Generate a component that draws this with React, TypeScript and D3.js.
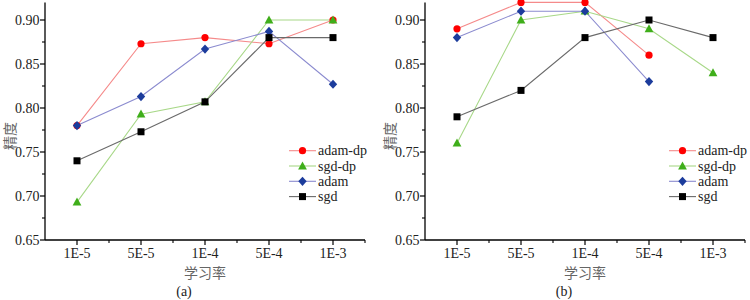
import React from "react";
import * as d3 from "d3";

const categories = ["1E-5", "5E-5", "1E-4", "5E-4", "1E-3"];
const seriesNames = ["adam-dp", "sgd-dp", "adam", "sgd"];

const leftAdamDp = [0.78, 0.873, 0.88, 0.873, 0.9];
const leftSgdDp = [0.693, 0.793, 0.807, 0.9, 0.9];
const leftAdam = [0.78, 0.813, 0.867, 0.887, 0.827];
const leftSgd = [0.74, 0.773, 0.807, 0.88, 0.88];

const rightAdamDp = [0.89, 0.92, 0.92, 0.86, null];
const rightSgdDp = [0.76, 0.9, 0.91, 0.89, 0.84];
const rightAdam = [0.88, 0.91, 0.91, 0.83, null];
const rightSgd = [0.79, 0.82, 0.88, 0.9, 0.88];

const yTicks = [0.65, 0.7, 0.75, 0.8, 0.85, 0.9];
const yMinorTicks = [0.675, 0.725, 0.775, 0.825, 0.875];
const yDomain = [0.65, 0.92];

const styles = [
  { line: "#f58a8a", fill: "#ff0000", shape: "circle" },
  { line: "#a8d888", fill: "#3fae1a", shape: "triangle" },
  { line: "#8b8bcf", fill: "#1c3c9c", shape: "diamond" },
  { line: "#6a6a6a", fill: "#000000", shape: "square" },
];

const serifStyle = { fontFamily: "Liberation Serif, Times New Roman, serif" };
const cjkStyle = { fontFamily: "Noto Sans CJK SC, sans-serif" };

function Marker({ shape, x, y, fill }: { shape: string; x: number; y: number; fill: string }) {
  if (shape === "circle") return <circle cx={x} cy={y} r={3.6} fill={fill} />;
  if (shape === "square") return <rect x={x - 3.5} y={y - 3.5} width={7} height={7} fill={fill} />;
  if (shape === "diamond")
    return <path d={`M${x},${y - 4.6}L${x + 4.2},${y}L${x},${y + 4.6}L${x - 4.2},${y}Z`} fill={fill} />;
  return <path d={`M${x},${y - 4.6}L${x + 4.4},${y + 3.4}L${x - 4.4},${y + 3.4}Z`} fill={fill} />;
}

function Panel({ ox, data, label, id }: { ox: number; data: (number | null)[][]; label: string; id: string }) {
  const x = d3.scaleLinear().domain([-0.5, 4.5]).range([ox, ox + 320]);
  const y = d3.scaleLinear().domain(yDomain).range([240, 2.4]);
  const line = d3
    .line<[number, number | null]>()
    .defined((d) => d[1] !== null)
    .x((d) => x(d[0]))
    .y((d) => y(d[1] as number));
  const xMinor = [0.5, 1.5, 2.5, 3.5, 4.5];
  return (
    <g>
      <defs>
        <clipPath id={id}>
          <rect x={ox} y={0} width={330} height={240} />
        </clipPath>
      </defs>
      <g clipPath={`url(#${id})`}>
        {data.map((vals, si) => (
          <path
            key={"l" + si}
            d={line(vals.map((v, i) => [i, v]) as [number, number | null][]) || ""}
            fill="none"
            stroke={styles[si].line}
            strokeWidth={1.1}
          />
        ))}
        {data.map((vals, si) =>
          vals.map((v, i) =>
            v === null ? null : (
              <Marker key={si + "-" + i} shape={styles[si].shape} x={x(i)} y={y(v)} fill={styles[si].fill} />
            )
          )
        )}
      </g>
      <line x1={ox} x2={ox} y1={y(yDomain[1])} y2={240} stroke="#000" strokeWidth={1.3} />
      <line x1={ox} x2={ox + 320} y1={240} y2={240} stroke="#000" strokeWidth={1.3} />
      {yTicks.map((t) => (
        <g key={"yt" + t}>
          <line x1={ox - 5} x2={ox} y1={y(t)} y2={y(t)} stroke="#000" strokeWidth={1.2} />
          <text x={ox - 5.5} y={y(t)} dy="0.35em" textAnchor="end" style={serifStyle} fontSize={14} fill="#222">
            {t.toFixed(2)}
          </text>
        </g>
      ))}
      {yMinorTicks.map((t) => (
        <line key={"ym" + t} x1={ox - 3} x2={ox} y1={y(t)} y2={y(t)} stroke="#000" strokeWidth={1.1} />
      ))}
      {categories.map((c, i) => (
        <g key={"xt" + c}>
          <line x1={x(i)} x2={x(i)} y1={240} y2={245} stroke="#000" strokeWidth={1.2} />
          <text x={x(i)} y={257.5} textAnchor="middle" style={serifStyle} fontSize={14} fill="#222">
            {c}
          </text>
        </g>
      ))}
      {xMinor.map((t) => (
        <line key={"xm" + t} x1={x(t)} x2={x(t)} y1={240} y2={243} stroke="#000" strokeWidth={1.1} />
      ))}
      <text x={x(2)} y={278} textAnchor="middle" style={cjkStyle} fontSize={14} fill="#666">
        学习率
      </text>
      <text
        transform={`translate(${ox - 30},${136}) rotate(-90)`}
        textAnchor="middle"
        style={cjkStyle}
        fontSize={14}
        fill="#666"
      >
        精度
      </text>
      <text x={ox + 139} y={296} textAnchor="middle" style={serifStyle} fontSize={14} fill="#222">
        {label}
      </text>
      {seriesNames.map((n, si) => {
        const ly = 150.7 + si * 15.3;
        return (
          <g key={"lg" + n}>
            <line x1={ox + 244} x2={ox + 271} y1={ly} y2={ly} stroke={styles[si].line} strokeWidth={1.1} />
            <Marker shape={styles[si].shape} x={ox + 257.5} y={ly} fill={styles[si].fill} />
            <text x={ox + 273} y={ly} dy="0.33em" style={serifStyle} fontSize={14} fill="#222">
              {n}
            </text>
          </g>
        );
      })}
    </g>
  );
}

export default function App() {
  return (
    <svg width={750} height={300} style={{ position: "absolute", left: 0, top: 0, background: "#fff" }}>
      <rect width={750} height={300} fill="#fff" />
      <Panel ox={45} id="clipA" label="(a)" data={[leftAdamDp, leftSgdDp, leftAdam, leftSgd]} />
      <Panel ox={425} id="clipB" label="(b)" data={[rightAdamDp, rightSgdDp, rightAdam, rightSgd]} />
    </svg>
  );
}
